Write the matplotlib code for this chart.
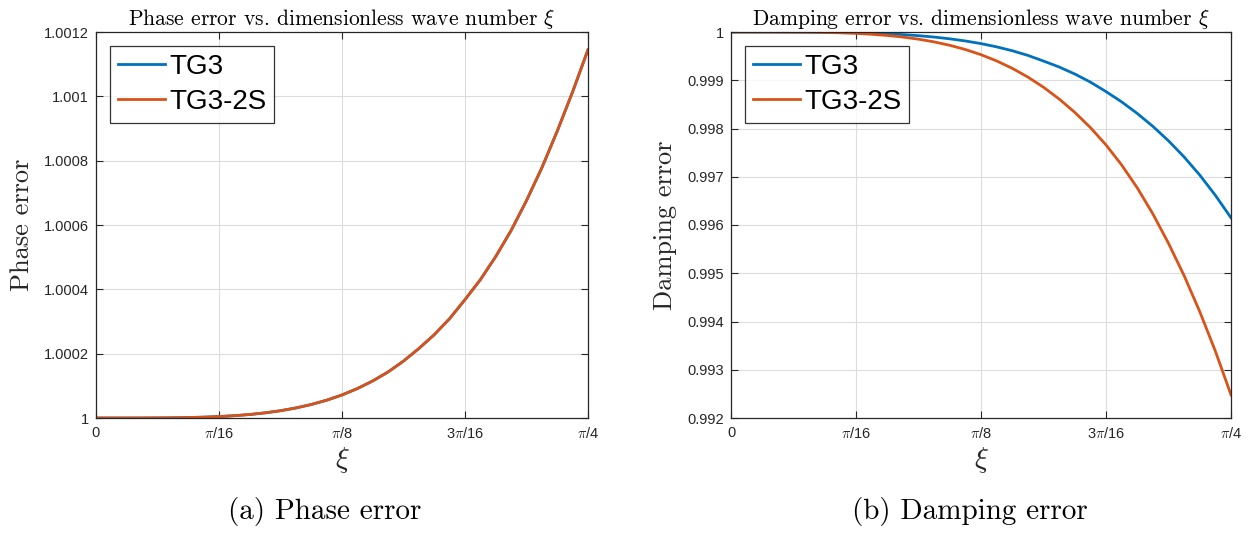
import numpy as np
import matplotlib.pyplot as plt

# Muestreo en xi: multiplos de pi/128 entre 0 y pi/4
xi_steps = list(range(33))
xi = np.array(xi_steps) * np.pi / 128

# Error de fase: desviacion respecto de 1, en unidades de 1e-4 (TG3 y TG3-2S coinciden)
phase_off_e4 = [0.0, 0.00001, 0.0002, 0.0009, 0.0028, 0.0068, 0.0142, 0.0262,
                0.0447, 0.0717, 0.109, 0.160, 0.226, 0.312, 0.420, 0.553,
                0.716, 0.915, 1.152, 1.432, 1.770, 2.160, 2.590, 3.090,
                3.680, 4.300, 5.020, 5.830, 6.760, 7.780, 8.920, 10.14, 11.45]
phase_tg3 = 1 + np.array(phase_off_e4) * 1e-4
phase_tg3_2s = phase_tg3.copy()

# Error de amortiguamiento: perdida respecto de 1, en unidades de 1e-3
damp_tg3_loss_e3 = [0.0, 0.000004, 0.00006, 0.0003, 0.0009, 0.0023, 0.0048, 0.0088,
                    0.0150, 0.0241, 0.0367, 0.0538, 0.0762, 0.1049, 0.1411, 0.1859,
                    0.2406, 0.3080, 0.3880, 0.4850, 0.6020, 0.7250, 0.8700, 1.0380,
                    1.2350, 1.4480, 1.6880, 1.9560, 2.2550, 2.5900, 2.9650, 3.3850, 3.850]
damp_tg3_2s_loss_e3 = [0.0, 0.000007, 0.00011, 0.0006, 0.0018, 0.0045, 0.0093, 0.0172,
                       0.0294, 0.0471, 0.0717, 0.1051, 0.1488, 0.2048, 0.2755, 0.3631,
                       0.4700, 0.5990, 0.7528, 0.9340, 1.1450, 1.3880, 1.6650, 1.9800,
                       2.3400, 2.7550, 3.2300, 3.7700, 4.3800, 5.0500, 5.7950, 6.6150, 7.520]
damp_tg3 = 1 - np.array(damp_tg3_loss_e3) * 1e-3
damp_tg3_2s = 1 - np.array(damp_tg3_2s_loss_e3) * 1e-3

xticks = [0, np.pi / 16, np.pi / 8, 3 * np.pi / 16, np.pi / 4]
xticklabels = ['0', r'$\pi$/16', r'$\pi$/8', r'3$\pi$/16', r'$\pi$/4']

phase_ticks = [1.0, 1.0002, 1.0004, 1.0006, 1.0008, 1.001, 1.0012]
phase_ticklabels = ['1', '1.0002', '1.0004', '1.0006', '1.0008', '1.001', '1.0012']
damp_ticks = [0.992, 0.993, 0.994, 0.995, 0.996, 0.997, 0.998, 0.999, 1.0]
damp_ticklabels = ['0.992', '0.993', '0.994', '0.995', '0.996', '0.997',
                   '0.998', '0.999', '1']

labels = ['TG3', 'TG3-2S']
colors = ['#0072BD', '#D95319']

plt.rcParams['font.family'] = 'Liberation Sans'
plt.rcParams['mathtext.fontset'] = 'cm'
serif = 'cmr10'
dark = '#262626'

fig = plt.figure(figsize=(12.5, 5.33), dpi=100)
W, H = 1250, 533
ax1 = fig.add_axes([96 / W, 115 / H, 492 / W, 386 / H])
ax2 = fig.add_axes([731 / W, 115 / H, 500 / W, 386 / H])


def estilo(ax, yticks, yticklabels, ylim, titulo, ylabel, ylab_x):
    ax.set_xlim(0, np.pi / 4)
    ax.set_ylim(*ylim)
    ax.set_xticks(xticks)
    ax.set_xticklabels(xticklabels)
    ax.set_yticks(yticks)
    ax.set_yticklabels(yticklabels)
    ax.tick_params(direction='in', length=5, width=0.8, colors=dark,
                   labelsize=10.5, top=True, right=True, pad=5)
    ax.tick_params(axis='x', pad=6)
    for s in ax.spines.values():
        s.set_color(dark)
        s.set_linewidth(0.9)
    ax.grid(True, color='#dcdcdc', lw=0.8)
    ax.set_axisbelow(True)
    ax.set_title(titulo, fontfamily=serif, fontsize=15.5, pad=5)
    ax.set_ylabel(ylabel, fontfamily=serif, fontsize=19, color=dark)
    ax.yaxis.set_label_coords(ylab_x, 0.5)
    ax.set_xlabel(r'$\xi$', fontsize=21, color=dark)
    ax.xaxis.set_label_coords(0.5, -0.07)
    leg = ax.legend(loc='upper left', fontsize=20, frameon=True, fancybox=False,
                    handlelength=1.7, handletextpad=0.15, labelspacing=0.34,
                    borderpad=0.28, borderaxespad=0.5)
    leg.get_frame().set_edgecolor('black')
    leg.get_frame().set_linewidth(0.9)


# Panel (a): error de fase
ax1.plot(xi, phase_tg3, color=colors[0], lw=2, label=labels[0])
ax1.plot(xi, phase_tg3_2s, color=colors[1], lw=2, label=labels[1])
estilo(ax1, phase_ticks, phase_ticklabels, (1.0, 1.0012),
       r'Phase error vs. dimensionless wave number $\xi$', 'Phase error', -0.125)

# Panel (b): error de amortiguamiento
ax2.plot(xi, damp_tg3, color=colors[0], lw=2, label=labels[0])
ax2.plot(xi, damp_tg3_2s, color=colors[1], lw=2, label=labels[1])
estilo(ax2, damp_ticks, damp_ticklabels, (0.992, 1.0),
       r'Damping error vs. dimensionless wave number $\xi$', 'Damping error', -0.108)

fig.text(325 / W, 1 - 512 / H, '(a) Phase error', fontfamily=serif,
         fontsize=21, ha='center', va='center')
fig.text(970 / W, 1 - 512 / H, '(b) Damping error', fontfamily=serif,
         fontsize=21, ha='center', va='center')

plt.savefig('out.png', dpi=100)
